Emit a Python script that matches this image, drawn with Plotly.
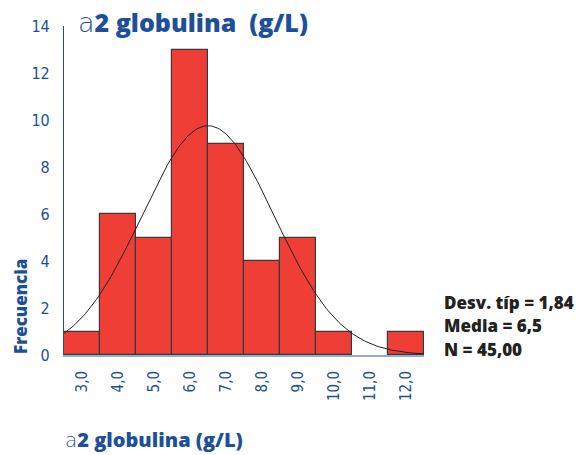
import numpy as np
import plotly.graph_objects as go

# Histogram of alpha-2 globulin (g/L)
bin_centers = [3, 4, 5, 6, 7, 8, 9, 10, 11, 12]
frequencies = [1, 6, 5, 13, 9, 4, 5, 1, 0, 1]
tick_labels = ["3,0", "4,0", "5,0", "6,0", "7,0", "8,0", "9,0", "10,0", "11,0", "12,0"]

# Summary statistics shown beside the chart
std_dev = 1.84
mean = 6.5
n_obs = 45
bin_width = 1.0

BLUE = "#1d4f9a"
RED = "#ef3e36"
NARROW = "DejaVu Sans Condensed, Liberation Sans Narrow, sans-serif"
BOLD = "Open Sans, DejaVu Sans, sans-serif"

W, H = 588, 455
L, R, T, B = 64, 164, 26, 100
PW, PH = W - L - R, H - T - B


def px_x(px):
    return (px - L) / PW


def px_y(py):
    return (H - B - py) / PH


# Fitted normal curve scaled to counts
xs = np.linspace(2.5, 12.5, 200)
ys = n_obs * bin_width / (std_dev * np.sqrt(2 * np.pi)) * np.exp(-0.5 * ((xs - mean) / std_dev) ** 2)

fig = go.Figure()
fig.add_trace(go.Bar(
    x=bin_centers, y=frequencies, width=bin_width,
    marker=dict(color=RED,
                line=dict(color="#3a3a3a", width=[0 if f == 0 else 1.2 for f in frequencies])),
    hoverinfo="skip",
))
fig.add_trace(go.Scatter(
    x=xs, y=ys, mode="lines", line=dict(color="#222222", width=1), hoverinfo="skip",
))

fig.update_layout(
    width=W, height=H,
    margin=dict(l=L, r=R, t=T, b=B),
    paper_bgcolor="white", plot_bgcolor="white",
    showlegend=False, bargap=0,
    xaxis=dict(
        range=[2.5, 12.5], tickvals=bin_centers, ticktext=tick_labels,
        tickangle=-90, showgrid=False, zeroline=False,
        showline=True, linecolor="#8eaed6", linewidth=2,
        ticks="", ticklabelstandoff=8,
        tickfont=dict(family=NARROW, size=15, color=BLUE),
    ),
    yaxis=dict(
        range=[0, 14], tickvals=list(range(0, 15, 2)),
        showgrid=False, zeroline=False,
        showline=True, linecolor=BLUE, linewidth=1.2,
        ticks="", ticklabelstandoff=10,
        tickfont=dict(family=NARROW, size=16, color=BLUE),
    ),
)

# Title
fig.add_annotation(
    xref="paper", yref="paper", x=px_x(76), y=px_y(22),
    xanchor="left", yanchor="middle", showarrow=False,
    text="<span style='font-family:DejaVu Sans;font-weight:300;font-size:27px'>a</span>2 globulina  (g/L)",
    font=dict(family=BOLD, size=25, color=BLUE, weight=800),
)
# Bottom axis label
fig.add_annotation(
    xref="paper", yref="paper", x=px_x(63), y=px_y(439),
    xanchor="left", yanchor="middle", showarrow=False,
    text="<span style='font-family:DejaVu Sans;font-weight:300'>a</span>2 globulina (g/L)",
    font=dict(family=BOLD, size=20, color=BLUE, weight=800),
)
# Y axis title
fig.add_annotation(
    xref="paper", yref="paper", x=px_x(20), y=px_y(307),
    xanchor="center", yanchor="middle", showarrow=False, textangle=-90,
    text="Frecuencia",
    font=dict(family=BOLD, size=17, color=BLUE, weight=800),
)
# Statistics block
stats = [
    "Desv. típ = " + f"{std_dev:.2f}".replace(".", ","),
    "Media = " + f"{mean:.1f}".replace(".", ","),
    "N = " + f"{n_obs:.2f}".replace(".", ","),
]
for i, line in enumerate(stats):
    fig.add_annotation(
        xref="paper", yref="paper", x=px_x(442), y=px_y(302 + 23.5 * i),
        xanchor="left", yanchor="middle", showarrow=False,
        text=line,
        font=dict(family=BOLD, size=17, color="#222222", weight=800),
    )

fig.write_html("out.html")
